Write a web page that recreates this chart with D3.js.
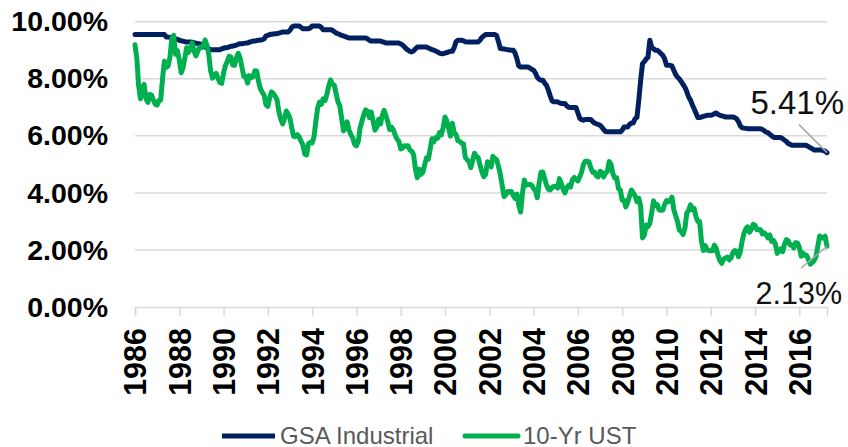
<!DOCTYPE html>
<html>
<head>
<meta charset="utf-8">
<script src="https://cdn.jsdelivr.net/npm/d3@7"></script>
<style>
  body { margin: 0; background: #fff; }
  svg { display: block; font-family: "Liberation Sans", Arial, sans-serif; }
  .grid line { stroke: #d9d9d9; stroke-width: 1.5; }
  .axis path, .axis line { stroke: #d9d9d9; stroke-width: 1.5; }
</style>
</head>
<body>
<div id="chart"></div>
<script>
// monthly series, Jan 1986 .. Apr 2017
const startMonth = new Date(1986, 0, 1);

const gsaIndustrial = [
  9.55, 9.55, 9.55, 9.55, 9.55, 9.55, 9.55, 9.55, 9.55, 9.55, 9.55, 9.55,
  9.55, 9.55, 9.55, 9.55, 9.55, 9.46, 9.46, 9.45, 9.43, 9.40, 9.40, 9.38,
  9.35, 9.33, 9.32, 9.30, 9.29, 9.29, 9.29, 9.28, 9.26, 9.25, 9.23, 9.23,
  9.20, 9.15, 9.11, 9.08, 9.05, 9.02, 9.02, 9.02, 9.02, 9.02, 9.02, 9.05,
  9.07, 9.09, 9.09, 9.11, 9.14, 9.14, 9.16, 9.18, 9.21, 9.23, 9.23, 9.24,
  9.25, 9.25, 9.28, 9.30, 9.32, 9.32, 9.34, 9.35, 9.36, 9.37, 9.40, 9.50,
  9.52, 9.55, 9.56, 9.57, 9.58, 9.58, 9.60, 9.62, 9.64, 9.64, 9.64, 9.64,
  9.70, 9.81, 9.85, 9.85, 9.85, 9.85, 9.80, 9.75, 9.75, 9.75, 9.75, 9.78,
  9.85, 9.85, 9.85, 9.85, 9.85, 9.80, 9.72, 9.72, 9.72, 9.72, 9.72, 9.70,
  9.65, 9.60, 9.58, 9.55, 9.52, 9.50, 9.48, 9.45, 9.43, 9.43, 9.43, 9.43,
  9.43, 9.43, 9.43, 9.43, 9.43, 9.43, 9.40, 9.35, 9.32, 9.32, 9.32, 9.32,
  9.32, 9.32, 9.30, 9.28, 9.25, 9.25, 9.25, 9.25, 9.25, 9.25, 9.25, 9.25,
  9.22, 9.18, 9.12, 9.05, 9.00, 8.96, 8.94, 8.98, 9.05, 9.11, 9.11, 9.11,
  9.11, 9.11, 9.11, 9.08, 9.05, 9.02, 9.00, 8.97, 8.94, 8.90, 8.88, 8.88,
  8.90, 8.92, 8.94, 8.96, 8.96, 9.10, 9.30, 9.35, 9.35, 9.35, 9.33, 9.30,
  9.29, 9.29, 9.29, 9.29, 9.29, 9.29, 9.29, 9.35, 9.45, 9.50, 9.55, 9.55,
  9.55, 9.55, 9.55, 9.55, 9.52, 9.30, 9.06, 9.05, 9.04, 9.03, 9.02, 9.01,
  9.00, 9.00, 8.90, 8.70, 8.45, 8.41, 8.41, 8.41, 8.41, 8.41, 8.38, 8.33,
  8.30, 8.20, 8.05, 7.98, 7.95, 7.95, 7.85, 7.77, 7.60, 7.40, 7.22, 7.19,
  7.19, 7.19, 7.16, 7.13, 7.13, 7.13, 7.05, 7.00, 6.99, 6.99, 6.99, 6.99,
  6.80, 6.61, 6.57, 6.55, 6.57, 6.57, 6.57, 6.57, 6.50, 6.45, 6.42, 6.40,
  6.37, 6.30, 6.22, 6.15, 6.14, 6.14, 6.14, 6.14, 6.14, 6.14, 6.14, 6.14,
  6.20, 6.31, 6.31, 6.31, 6.40, 6.45, 6.45, 6.60, 6.65, 7.25, 7.95, 8.53,
  8.60, 8.70, 8.75, 9.35, 9.11, 9.05, 9.00, 9.00, 8.95, 8.88, 8.82, 8.70,
  8.47, 8.47, 8.47, 8.45, 8.30, 8.15, 8.06, 8.00, 7.90, 7.80, 7.70, 7.55,
  7.36, 7.25, 7.10, 6.95, 6.80, 6.64, 6.64, 6.66, 6.68, 6.70, 6.72, 6.72,
  6.72, 6.74, 6.78, 6.80, 6.75, 6.72, 6.70, 6.68, 6.66, 6.66, 6.66, 6.66,
  6.66, 6.64, 6.60, 6.50, 6.35, 6.28, 6.27, 6.26, 6.25, 6.25, 6.25, 6.25,
  6.25, 6.25, 6.25, 6.25, 6.22, 6.18, 6.13, 6.11, 6.05, 6.00, 5.95, 5.94,
  5.94, 5.94, 5.94, 5.90, 5.85, 5.80, 5.73, 5.70, 5.67, 5.67, 5.67, 5.67,
  5.67, 5.67, 5.67, 5.67, 5.66, 5.62, 5.58, 5.55, 5.50, 5.50, 5.50, 5.50,
  5.50, 5.48, 5.46, 5.41
];

const ust10yr = [
  9.19, 8.70, 7.78, 7.30, 7.71, 7.80, 7.30, 7.17, 7.45, 7.43, 7.25, 7.11,
  7.08, 7.25, 7.25, 8.02, 8.61, 8.40, 8.45, 8.76, 9.42, 9.52, 8.86, 8.99,
  8.67, 8.21, 8.37, 8.72, 9.09, 8.92, 9.06, 9.26, 8.98, 8.80, 8.96, 9.11,
  9.09, 9.17, 9.36, 9.18, 8.86, 8.28, 8.02, 8.11, 8.19, 8.01, 7.87, 7.84,
  8.21, 8.47, 8.59, 8.79, 8.76, 8.48, 8.47, 8.75, 8.89, 8.72, 8.39, 8.08,
  8.09, 7.85, 8.11, 8.04, 8.07, 8.28, 8.27, 7.90, 7.65, 7.53, 7.42, 7.09,
  7.03, 7.34, 7.54, 7.48, 7.39, 7.26, 6.84, 6.59, 6.42, 6.59, 6.87, 6.77,
  6.60, 6.26, 5.98, 5.97, 6.04, 5.96, 5.81, 5.68, 5.36, 5.33, 5.72, 5.77,
  5.75, 5.97, 6.48, 6.97, 7.18, 7.10, 7.30, 7.24, 7.46, 7.74, 7.96, 7.81,
  7.78, 7.47, 7.20, 7.06, 6.63, 6.17, 6.28, 6.49, 6.20, 6.04, 5.93, 5.71,
  5.65, 5.81, 6.27, 6.51, 6.74, 6.91, 6.87, 6.64, 6.83, 6.53, 6.20, 6.30,
  6.58, 6.42, 6.69, 6.89, 6.71, 6.49, 6.22, 6.30, 6.21, 6.03, 5.88, 5.81,
  5.54, 5.57, 5.65, 5.64, 5.65, 5.50, 5.46, 5.34, 4.81, 4.53, 4.83, 4.65,
  4.72, 5.00, 5.23, 5.18, 5.54, 5.90, 5.79, 5.94, 5.92, 6.11, 6.03, 6.28,
  6.66, 6.52, 6.26, 5.99, 6.44, 6.10, 6.05, 5.83, 5.80, 5.74, 5.72, 5.24,
  5.16, 5.10, 4.89, 5.14, 5.39, 5.28, 5.24, 4.97, 4.73, 4.57, 4.65, 5.09,
  5.04, 4.91, 5.28, 5.21, 5.16, 4.93, 4.65, 4.26, 3.87, 3.94, 4.05, 4.03,
  4.05, 3.90, 3.81, 3.96, 3.57, 3.33, 3.98, 4.45, 4.27, 4.29, 4.30, 4.27,
  4.15, 4.08, 3.83, 4.35, 4.72, 4.73, 4.50, 4.28, 4.13, 4.10, 4.19, 4.23,
  4.22, 4.17, 4.50, 4.34, 4.14, 4.00, 4.18, 4.26, 4.20, 4.46, 4.54, 4.47,
  4.42, 4.57, 4.72, 4.99, 5.11, 5.11, 5.09, 4.88, 4.72, 4.73, 4.60, 4.56,
  4.76, 4.72, 4.56, 4.69, 4.75, 5.10, 5.00, 4.67, 4.52, 4.53, 4.15, 4.10,
  3.74, 3.74, 3.51, 3.68, 3.88, 4.10, 4.01, 3.89, 3.69, 3.81, 3.53, 2.42,
  2.52, 2.87, 2.82, 2.93, 3.29, 3.72, 3.56, 3.59, 3.40, 3.39, 3.40, 3.59,
  3.73, 3.69, 3.73, 3.85, 3.42, 3.20, 3.01, 2.70, 2.65, 2.54, 2.76, 3.29,
  3.39, 3.58, 3.41, 3.46, 3.17, 3.00, 3.00, 2.30, 1.98, 2.15, 2.01, 1.98,
  1.97, 1.97, 2.17, 2.05, 1.80, 1.62, 1.53, 1.68, 1.72, 1.75, 1.65, 1.72,
  1.91, 1.98, 1.96, 1.76, 1.93, 2.30, 2.58, 2.74, 2.81, 2.62, 2.72, 2.90,
  2.86, 2.71, 2.72, 2.71, 2.56, 2.60, 2.54, 2.42, 2.53, 2.30, 2.33, 2.21,
  1.88, 1.98, 2.04, 1.94, 2.20, 2.36, 2.32, 2.17, 2.17, 2.07, 2.26, 2.24,
  2.09, 1.78, 1.89, 1.81, 1.81, 1.64, 1.50, 1.56, 1.63, 1.76, 2.14, 2.49,
  2.43, 2.42, 2.48, 2.13
];

const yTicks = [0, 2, 4, 6, 8, 10];
const xTickYears = d3.range(1986, 2017, 2);
const seriesNames = ['GSA Industrial', '10-Yr UST'];
const seriesColors = ['#002060', '#00b050'];

const width = 848, height = 447;
const margin = { top: 21.7, right: 21, bottom: 140, left: 135 };
const innerW = width - margin.left - margin.right;
const innerH = height - margin.top - margin.bottom;

const months = d3.range(ust10yr.length).map(i => d3.timeMonth.offset(startMonth, i));

const svg = d3.select('#chart')
  .append('svg')
  .attr('width', width)
  .attr('height', height);

const g = svg.append('g')
  .attr('transform', `translate(${margin.left},${margin.top})`);

const x = d3.scaleTime()
  .domain([months[0], months[months.length - 1]])
  .range([0, innerW]);

const y = d3.scaleLinear()
  .domain([0, 10])
  .range([innerH, 0]);

// gridlines
g.append('g')
  .attr('class', 'grid')
  .selectAll('line')
  .data(yTicks.filter(d => d > 0))
  .enter()
  .append('line')
  .attr('x1', 0)
  .attr('x2', innerW)
  .attr('y1', d => y(d))
  .attr('y2', d => y(d));

// y axis labels
const yAxis = g.append('g')
  .call(d3.axisLeft(y).tickValues(yTicks).tickSize(0).tickPadding(27)
    .tickFormat(d => d3.format('.2f')(d) + '%'));
yAxis.select('.domain').remove();
yAxis.selectAll('text')
  .style('font-size', '28.5px')
  .style('font-weight', 'bold')
  .attr('fill', '#000');

// x axis
const xAxis = g.append('g')
  .attr('class', 'axis')
  .attr('transform', `translate(0,${innerH})`)
  .call(d3.axisBottom(x)
    .tickValues(xTickYears.map(yr => new Date(yr, 0, 1)))
    .tickSizeOuter(0)
    .tickSize(9)
    .tickFormat(d3.timeFormat('%Y')));
xAxis.selectAll('text')
  .attr('transform', 'translate(0,21) rotate(-90)')
  .attr('x', 0)
  .attr('y', 0)
  .attr('dy', '0.36em')
  .style('text-anchor', 'end')
  .style('font-size', '30.5px')
  .style('font-weight', 'bold')
  .attr('fill', '#000');

// lines
const line = d3.line()
  .x((d, i) => x(months[i]))
  .y(d => y(d));

[gsaIndustrial, ust10yr].forEach((series, k) => {
  g.append('path')
    .datum(series)
    .attr('fill', 'none')
    .attr('stroke', seriesColors[k])
    .attr('stroke-width', 5)
    .attr('stroke-linejoin', 'round')
    .attr('stroke-linecap', 'round')
    .attr('d', line);
});

// end labels
const lastDate = months[months.length - 1];
const lastGsa = gsaIndustrial[gsaIndustrial.length - 1];
const lastUst = ust10yr[ust10yr.length - 1];

g.append('line')
  .attr('x1', x(lastDate) - 28).attr('y1', y(lastGsa) - 28)
  .attr('x2', x(lastDate)).attr('y2', y(lastGsa))
  .attr('stroke', '#a6a6a6').attr('stroke-width', 1.5);
g.append('text')
  .attr('x', x(lastDate) + 17)
  .attr('y', y(lastGsa) - 39)
  .attr('text-anchor', 'end')
  .style('font-size', '33px')
  .attr('fill', '#111')
  .text(d3.format('.2f')(lastGsa) + '%');

g.append('line')
  .attr('x1', x(lastDate) - 26).attr('y1', y(lastUst) + 22)
  .attr('x2', x(lastDate)).attr('y2', y(lastUst))
  .attr('stroke', '#a6a6a6').attr('stroke-width', 1.5);
g.append('text')
  .attr('x', x(lastDate) + 15)
  .attr('y', y(lastUst) + 58)
  .attr('text-anchor', 'end')
  .style('font-size', '30.5px')
  .attr('fill', '#111')
  .text(d3.format('.2f')(lastUst) + '%');

// legend
const legendX = [222, 465];
const legend = svg.append('g');
seriesNames.forEach((name, k) => {
  legend.append('line')
    .attr('x1', legendX[k]).attr('x2', legendX[k] + 53)
    .attr('y1', 436).attr('y2', 436)
    .attr('stroke', seriesColors[k])
    .attr('stroke-width', 5)
    .attr('stroke-linecap', k === 1 ? 'round' : 'butt');
  legend.append('text')
    .attr('x', legendX[k] + 58)
    .attr('y', 444)
    .style('font-size', '24px')
    .attr('fill', '#595959')
    .text(name);
});
</script>
</body>
</html>
